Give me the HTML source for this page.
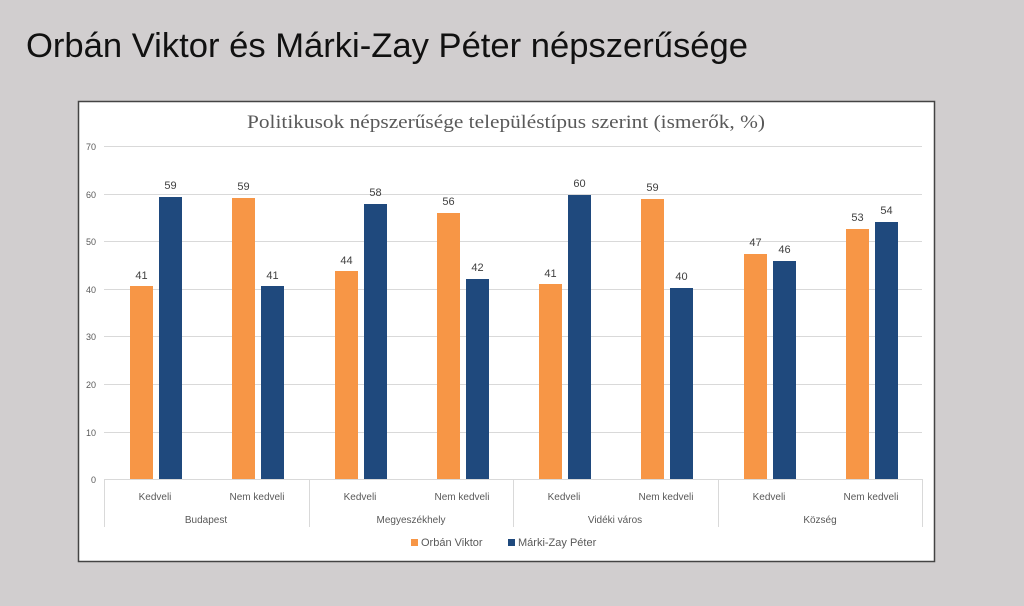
<!DOCTYPE html>
<html><head><meta charset="utf-8"><style>
body{margin:0;width:1024px;height:601px;background:#d1cecf;overflow:hidden;font-family:"Liberation Sans",sans-serif}
</style></head><body>
<svg width="1024" height="601" xmlns="http://www.w3.org/2000/svg" font-family="Liberation Sans, sans-serif">
<text x="26" y="57" font-size="34" fill="#111" textLength="722" lengthAdjust="spacingAndGlyphs">Orbán Viktor és Márki-Zay Péter népszerűsége</text>
<rect x="78.5" y="101.5" width="856" height="460" fill="#fff" stroke="#444" stroke-width="1.5"/>
<text x="247" y="128" font-size="19" fill="#595959" font-family="Liberation Serif, serif" textLength="518" lengthAdjust="spacingAndGlyphs">Politikusok népszerűsége településtípus szerint (ismerők, %)</text>
<g stroke="#d9d9d9" stroke-width="1">
<line x1="104" x2="922" y1="146.5" y2="146.5"/><line x1="104" x2="922" y1="194.5" y2="194.5"/>
<line x1="104" x2="922" y1="241.5" y2="241.5"/><line x1="104" x2="922" y1="289.5" y2="289.5"/>
<line x1="104" x2="922" y1="336.5" y2="336.5"/><line x1="104" x2="922" y1="384.5" y2="384.5"/>
<line x1="104" x2="922" y1="432.5" y2="432.5"/><line x1="104" x2="922" y1="479.5" y2="479.5"/>
<line x1="104.5" x2="104.5" y1="479" y2="527"/><line x1="309.5" x2="309.5" y1="479" y2="527"/>
<line x1="513.5" x2="513.5" y1="479" y2="527"/><line x1="718.5" x2="718.5" y1="479" y2="527"/>
<line x1="922.5" x2="922.5" y1="479" y2="527"/>
</g>
<g font-size="9" fill="#595959" text-anchor="end">
<text x="96" y="150">70</text><text x="96" y="198">60</text><text x="96" y="245">50</text><text x="96" y="293">40</text>
<text x="96" y="340">30</text><text x="96" y="388">20</text><text x="96" y="436">10</text><text x="96" y="483">0</text>
</g>
<g font-size="10" fill="#595959" text-anchor="middle">
<text x="155" y="500">Kedveli</text><text x="257" y="500">Nem kedveli</text>
<text x="360" y="500">Kedveli</text><text x="462" y="500">Nem kedveli</text>
<text x="564" y="500">Kedveli</text><text x="666" y="500">Nem kedveli</text>
<text x="769" y="500">Kedveli</text><text x="871" y="500">Nem kedveli</text>
<text x="206" y="523">Budapest</text><text x="411" y="523">Megyeszékhely</text>
<text x="615" y="523">Vidéki város</text><text x="820" y="523">Község</text>
</g>
<rect x="411" y="539" width="7" height="7" fill="#f79646"/>
<text x="421" y="546" font-size="11" fill="#595959">Orbán Viktor</text>
<rect x="508" y="539" width="7" height="7" fill="#1f497d"/>
<text x="518" y="546" font-size="11" fill="#595959">Márki-Zay Péter</text>
<g font-size="11" fill="#404040" text-anchor="middle">
<rect x="130" y="286" width="23" height="193" fill="#f79646"/><text x="141.5" y="279">41</text>
<rect x="159" y="197" width="23" height="282" fill="#1f497d"/><text x="170.5" y="189">59</text>
<rect x="232" y="198" width="23" height="281" fill="#f79646"/><text x="243.5" y="190">59</text>
<rect x="261" y="286" width="23" height="193" fill="#1f497d"/><text x="272.5" y="279">41</text>
<rect x="335" y="271" width="23" height="208" fill="#f79646"/><text x="346.5" y="264">44</text>
<rect x="364" y="204" width="23" height="275" fill="#1f497d"/><text x="375.5" y="196">58</text>
<rect x="437" y="213" width="23" height="266" fill="#f79646"/><text x="448.5" y="205">56</text>
<rect x="466" y="279" width="23" height="200" fill="#1f497d"/><text x="477.5" y="271">42</text>
<rect x="539" y="284" width="23" height="195" fill="#f79646"/><text x="550.5" y="277">41</text>
<rect x="568" y="195" width="23" height="284" fill="#1f497d"/><text x="579.5" y="187">60</text>
<rect x="641" y="199" width="23" height="280" fill="#f79646"/><text x="652.5" y="191">59</text>
<rect x="670" y="288" width="23" height="191" fill="#1f497d"/><text x="681.5" y="280">40</text>
<rect x="744" y="254" width="23" height="225" fill="#f79646"/><text x="755.5" y="246">47</text>
<rect x="773" y="261" width="23" height="218" fill="#1f497d"/><text x="784.5" y="253">46</text>
<rect x="846" y="229" width="23" height="250" fill="#f79646"/><text x="857.5" y="221">53</text>
<rect x="875" y="222" width="23" height="257" fill="#1f497d"/><text x="886.5" y="214">54</text>
</g>
</svg>
</body></html>
